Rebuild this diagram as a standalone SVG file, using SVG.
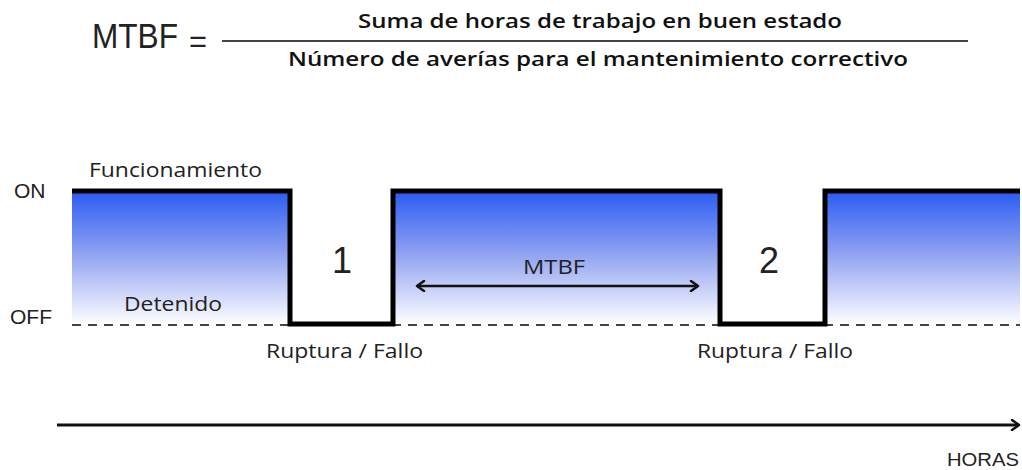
<svg xmlns="http://www.w3.org/2000/svg" width="1022" height="470" viewBox="0 0 1022 470">
  <style>
    .lbl { font-family: "Open Sans", "DejaVu Sans", sans-serif; font-size: 20px; fill: #222; }
    .frm { font-family: "Open Sans", "DejaVu Sans", sans-serif; font-size: 19px; font-weight: 600; fill: #111; }
    .ar { font-family: "Liberation Sans", Arial, sans-serif; fill: #222; }
    .wave { fill: none; stroke: #000; stroke-width: 5; stroke-linejoin: miter; stroke-linecap: butt; }
    .on { fill: url(#blue); }
  </style>
  <defs>
    <linearGradient id="blue" x1="0" y1="0" x2="0" y2="1">
      <stop offset="0" stop-color="#2a5cf2"/>
      <stop offset="0.45" stop-color="#8c9ff0"/>
      <stop offset="1" stop-color="#ffffff"/>
    </linearGradient>
    <marker id="chev" viewBox="0 0 12 12" refX="10" refY="6" markerWidth="12" markerHeight="12" markerUnits="userSpaceOnUse" orient="auto-start-reverse">
      <path d="M3,1 L10,6 L3,11" fill="none" stroke="#111" stroke-width="2.5" stroke-linecap="round" stroke-linejoin="round"/>
    </marker>
  </defs>
  <rect width="1022" height="470" fill="#fff"/>

  <g id="formula">
    <text class="ar" x="92" y="48" font-size="35" fill="#111" textLength="86" lengthAdjust="spacingAndGlyphs">MTBF</text>
    <text class="ar" x="189" y="52" font-size="32" fill="#111" textLength="18" lengthAdjust="spacingAndGlyphs">=</text>
    <line x1="222" y1="41" x2="968" y2="41" stroke="#444" stroke-width="2"/>
    <text class="frm" x="358" y="28" textLength="484" lengthAdjust="spacingAndGlyphs">Suma de horas de trabajo en buen estado</text>
    <text class="frm" x="288" y="66" textLength="620" lengthAdjust="spacingAndGlyphs">Número de averías para el mantenimiento correctivo</text>
  </g>

  <g id="fills">
    <rect class="on" x="72" y="191" width="218" height="134"/>
    <rect class="on" x="393" y="191" width="327" height="134"/>
    <rect class="on" x="825" y="191" width="195" height="134"/>
  </g>

  <g id="axis-labels">
    <text class="ar" x="14" y="198" font-size="21">ON</text>
    <text class="ar" x="10" y="324" font-size="21">OFF</text>
    <text class="lbl" x="89" y="177" textLength="173" lengthAdjust="spacingAndGlyphs">Funcionamiento</text>
    <text class="lbl" x="124" y="311" textLength="98" lengthAdjust="spacingAndGlyphs">Detenido</text>
  </g>

  <g id="connectors">
    <line x1="72" y1="325" x2="1020" y2="325" stroke="#444" stroke-width="2" stroke-dasharray="9 7"/>
    <path class="wave" d="M72,191 H290 V324 H393 V191 H720 V324 H825 V191 H1020"/>
    <line x1="417" y1="286" x2="698" y2="286" stroke="#111" stroke-width="2.5" marker-start="url(#chev)" marker-end="url(#chev)"/>
    <line x1="57" y1="425" x2="1019" y2="425" stroke="#111" stroke-width="3" marker-end="url(#chev)"/>
  </g>

  <g id="failure-1">
    <text class="ar" x="342" y="273" font-size="36" text-anchor="middle">1</text>
    <text class="lbl" x="266" y="358" textLength="157" lengthAdjust="spacingAndGlyphs">Ruptura / Fallo</text>
  </g>
  <g id="mtbf-span">
    <text class="lbl" x="523" y="274" font-size="22" textLength="62" lengthAdjust="spacingAndGlyphs">MTBF</text>
  </g>
  <g id="failure-2">
    <text class="ar" x="769" y="273" font-size="36" text-anchor="middle">2</text>
    <text class="lbl" x="697" y="358" textLength="156" lengthAdjust="spacingAndGlyphs">Ruptura / Fallo</text>
  </g>
  <g id="time-axis">
    <text class="ar" x="947" y="466" font-size="19" textLength="72" lengthAdjust="spacingAndGlyphs">HORAS</text>
  </g>
</svg>
